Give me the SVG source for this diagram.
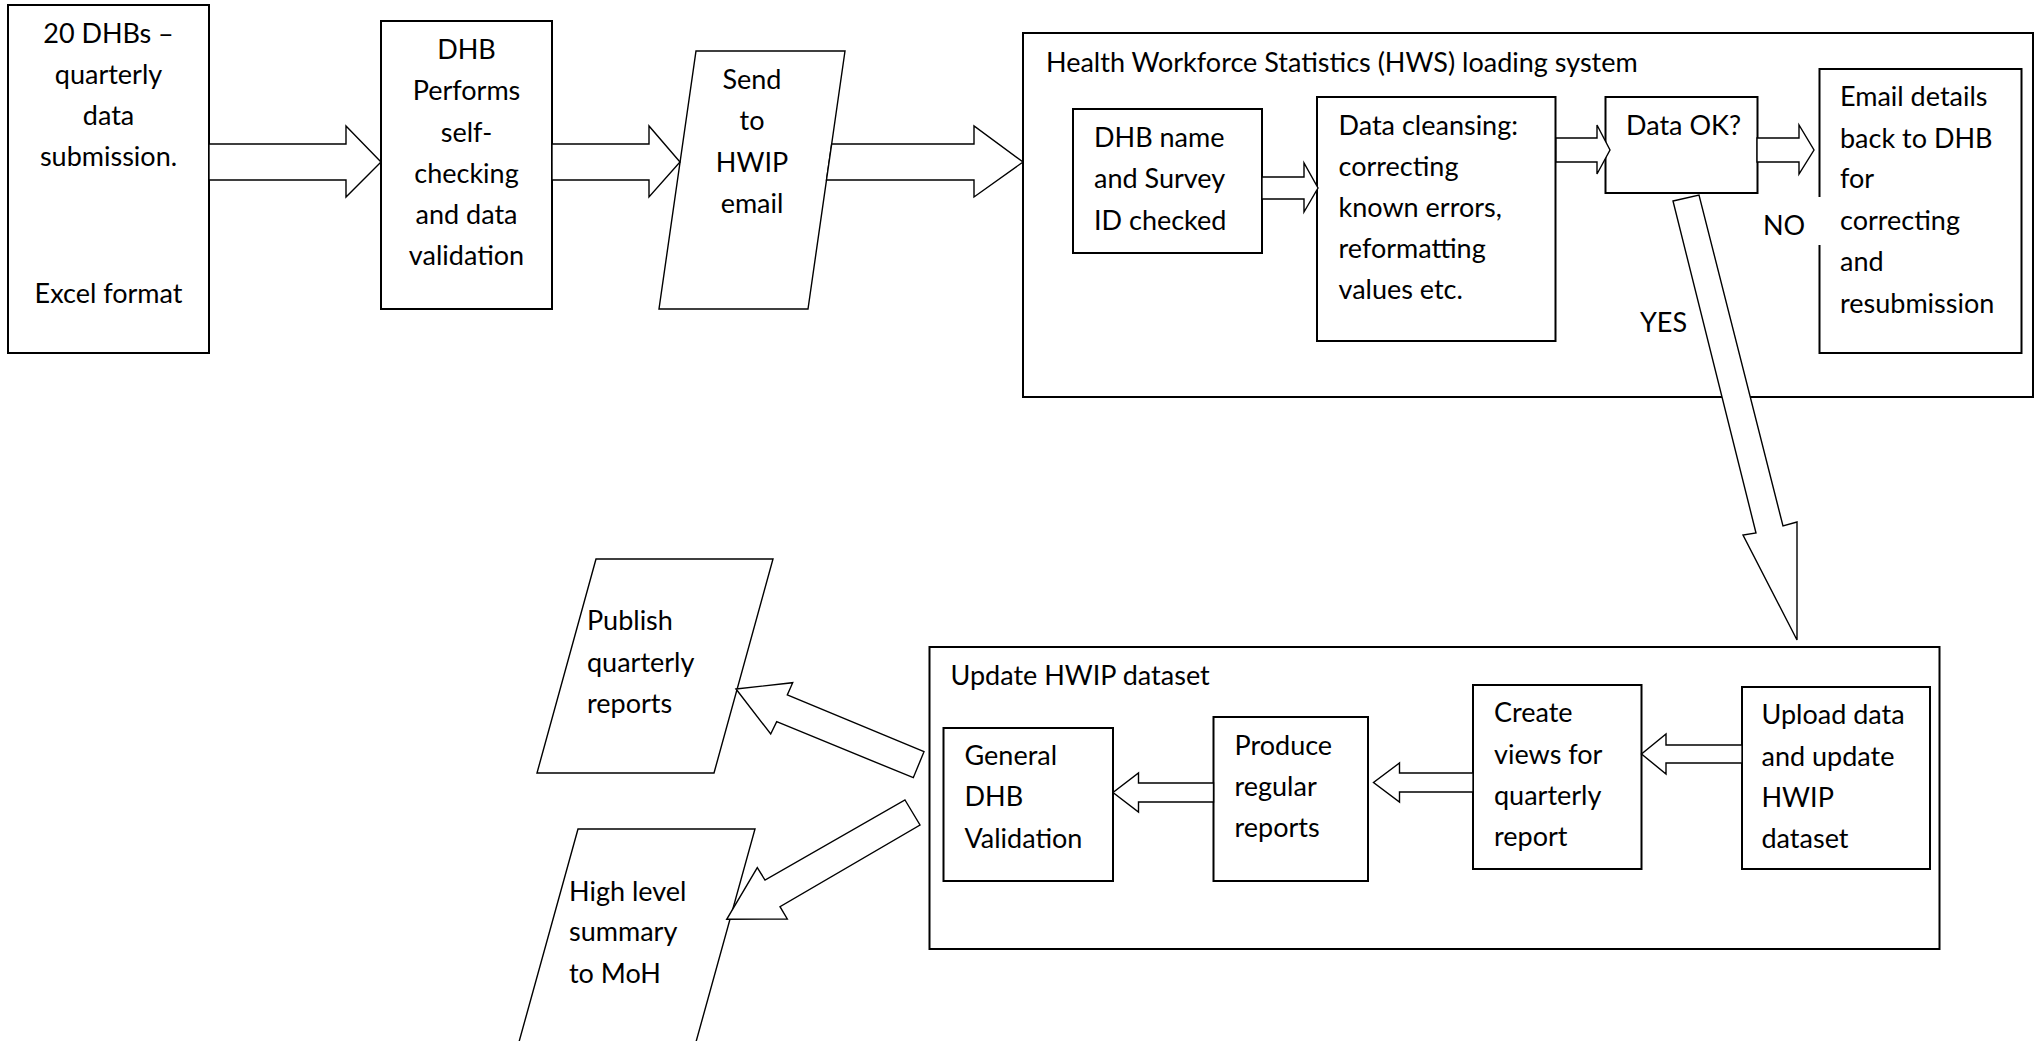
<svg xmlns="http://www.w3.org/2000/svg" width="2038" height="1041" viewBox="0 0 2038 1041">
<style>
text{font-family:Lato,"Liberation Sans",sans-serif;font-size:27px;fill:#000}
.c{text-anchor:middle}
.box{fill:#fff;stroke:#000;stroke-width:2}
.para{fill:#fff;stroke:#000;stroke-width:1.4}
.arr{fill:#fff;stroke:#000;stroke-width:1.4;stroke-linejoin:miter}
</style>
<rect width="2038" height="1041" fill="#fff"/>
<g id="hws-system">
<rect class="box" x="1023" y="33" width="1010" height="364"/>
<text x="1046" y="72">Health Workforce Statistics (HWS) loading system</text>
</g>
<g id="update-hwip">
<rect class="box" x="929.5" y="647" width="1010" height="302"/>
<text x="950.5" y="685">Update HWIP dataset</text>
</g>
<g id="dhb-submission">
<rect class="box" x="8" y="5" width="201" height="348"/>
<text class="c" x="108.5" y="43">20 DHBs –</text>
<text class="c" x="108.5" y="84">quarterly</text>
<text class="c" x="108.5" y="125">data</text>
<text class="c" x="108.5" y="166">submission.</text>
<text class="c" x="108.5" y="303">Excel format</text>
</g>
<g id="dhb-selfcheck">
<rect class="box" x="381" y="21" width="171" height="288"/>
<text class="c" x="466.5" y="59">DHB</text>
<text class="c" x="466.5" y="100">Performs</text>
<text class="c" x="466.5" y="142">self-</text>
<text class="c" x="466.5" y="183">checking</text>
<text class="c" x="466.5" y="224">and data</text>
<text class="c" x="466.5" y="265">validation</text>
</g>
<g id="send-email">
<polygon class="para" points="696,51 845,51 808,309 659,309"/>
<text class="c" x="752" y="89">Send</text>
<text class="c" x="752" y="130">to</text>
<text class="c" x="752" y="172">HWIP</text>
<text class="c" x="752" y="213">email</text>
</g>
<g id="dhb-name-check">
<rect class="box" x="1073" y="109" width="189" height="144"/>
<text x="1094" y="147">DHB name</text>
<text x="1094" y="188">and Survey</text>
<text x="1094" y="230">ID checked</text>
</g>
<g id="data-cleansing">
<rect class="box" x="1317" y="97" width="238.5" height="244"/>
<text x="1338.5" y="135">Data cleansing:</text>
<text x="1338.5" y="176">correcting</text>
<text x="1338.5" y="217">known errors,</text>
<text x="1338.5" y="258">reformatting</text>
<text x="1338.5" y="299">values etc.</text>
</g>
<g id="data-ok">
<rect class="box" x="1605.5" y="97" width="152" height="96"/>
<text x="1626" y="135">Data OK?</text>
</g>
<g id="email-back">
<rect class="box" x="1819.5" y="69" width="202" height="284"/>
<text x="1840" y="106">Email details</text>
<text x="1840" y="148">back to DHB</text>
<text x="1840" y="188">for</text>
<text x="1840" y="230">correcting</text>
<text x="1840" y="271">and</text>
<text x="1840" y="313">resubmission</text>
</g>
<g id="general-validation">
<rect class="box" x="943.5" y="728" width="169.5" height="153"/>
<text x="964.5" y="765">General</text>
<text x="964.5" y="806">DHB</text>
<text x="964.5" y="848">Validation</text>
</g>
<g id="produce-reports">
<rect class="box" x="1213.5" y="717" width="154.5" height="164"/>
<text x="1234.5" y="755">Produce</text>
<text x="1234.5" y="796">regular</text>
<text x="1234.5" y="837">reports</text>
</g>
<g id="create-views">
<rect class="box" x="1473" y="685" width="168.5" height="184"/>
<text x="1494" y="722">Create</text>
<text x="1494" y="764">views for</text>
<text x="1494" y="805">quarterly</text>
<text x="1494" y="846">report</text>
</g>
<g id="upload-data">
<rect class="box" x="1742" y="687" width="188" height="182"/>
<text x="1761.5" y="724">Upload data</text>
<text x="1761.5" y="766">and update</text>
<text x="1761.5" y="807">HWIP</text>
<text x="1761.5" y="848">dataset</text>
</g>
<g id="publish-reports">
<polygon class="para" points="596,559 773,559 714,773 537,773"/>
<text x="587" y="630">Publish</text>
<text x="587" y="672">quarterly</text>
<text x="587" y="713">reports</text>
</g>
<g id="summary-moh">
<polygon class="para" points="578,829 755,829 691,1060 514,1060"/>
<text x="569" y="901">High level</text>
<text x="569" y="941">summary</text>
<text x="569" y="983">to MoH</text>
</g>
<g id="connectors">
<polygon class="arr" points="209,144 346,144 346,126 381,162 346,197 346,180 209,180"/>
<polygon class="arr" points="552,144 649,144 649,126 680,162 649,197 649,180 552,180"/>
<polygon class="arr" points="831.7,144 974,144 974,126 1023,162 974,197 974,180 826.5,180"/>
<polygon class="arr" points="1262,177 1304,177 1304,163 1318,188 1304,212 1304,199 1262,199"/>
<polygon class="arr" points="1556,138 1597,138 1597,125 1610,150 1597,174 1597,162 1556,162"/>
<polygon class="arr" points="1757,138 1799,138 1799,125 1814,150 1799,174 1799,162 1757,162"/>
<polygon class="arr" points="1673,201 1699,195 1783,526 1797,522 1797,640 1743,535 1756,533"/>
<polygon class="arr" points="1742,745 1666,745 1666,734 1641.5,754 1666,774 1666,763 1742,763"/>
<polygon class="arr" points="1473,773 1399.5,773 1399.5,763 1373.5,782.5 1399.5,802 1399.5,792 1473,792"/>
<polygon class="arr" points="1213.5,783 1138.5,783 1138.5,773 1113,792.5 1138.5,812 1138.5,802 1213.5,802"/>
<polygon class="arr" points="736,689 792.7,682.7 787.3,695 924,751.7 913.3,777.7 776.7,721.7 770.7,734"/>
<polygon class="arr" points="905,800 920,825 780,906.7 787.3,919 726.7,919.3 757.3,867.7 765,880"/>
</g>
<g id="label-no">
<rect x="1756" y="197" width="66" height="48" fill="#fff"/>
<text x="1763" y="235">NO</text>
</g>
<g id="label-yes">
<text x="1640" y="332">YES</text>
</g>
</svg>
